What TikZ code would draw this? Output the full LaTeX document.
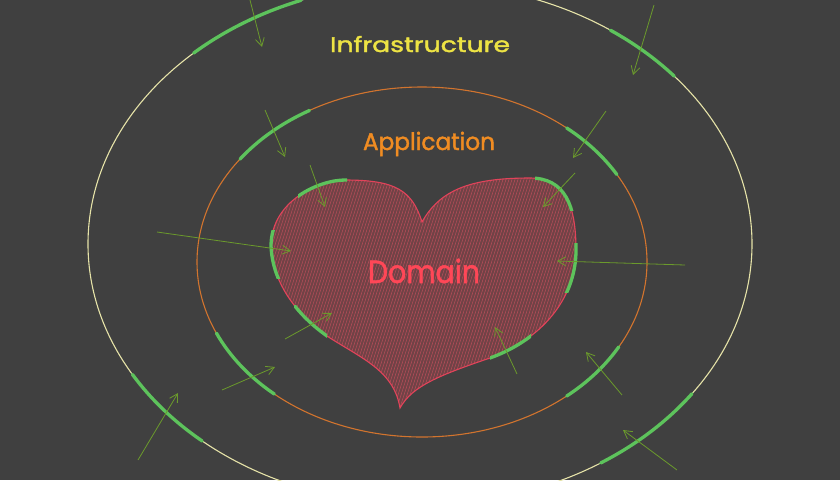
\documentclass[tikz,border=0pt]{standalone}
\usepackage{fontspec}
\setmainfont{Poppins}
\newfontfamily\handfont{Poppins}[FakeBold=1.6]
\usepackage{graphicx}
\usetikzlibrary{arrows.meta}
\definecolor{bg}{HTML}{404040}
\definecolor{outerc}{HTML}{E6E3A8}
\definecolor{midc}{HTML}{D2742E}
\definecolor{heartline}{HTML}{E2435A}
\definecolor{heartfill}{HTML}{704246}
\definecolor{hatchc}{HTML}{B84E5A}
\definecolor{hl}{HTML}{5DC35C}
\definecolor{arr}{HTML}{6B9A2C}
\definecolor{infc}{HTML}{EDE344}
\definecolor{appc}{HTML}{F08C22}
\definecolor{domc}{HTML}{FF4757}
\newlength\fitwid
\newcommand\fitto[2]{\settowidth\fitwid{#2}\scalebox{\fpeval{#1/\fitwid}}[1]{#2}}
\begin{document}
\begin{tikzpicture}[x=1pt,y=-1pt,
  hlseg/.style={hl, line width=3.3pt, line cap=round},
  inarrow/.style={arr, line width=0.8pt, -{Straight Barb[length=8pt,width=9pt]}},
  txt/.style={inner sep=0pt, anchor=base}]
\useasboundingbox (0,0) rectangle (840,480);
\fill[bg] (0,0) rectangle (840,480);

\def\heartpath{(422,222) .. controls (412,190) and (395,180) .. (345,180) .. controls (320,180) and (272,200) .. (271,245) .. controls (272,285) and (300,318) .. (330,338) .. controls (365,360) and (394,372) .. (400,408) .. controls (412,386) and (440,375) .. (490,358) .. controls (540,340) and (576,300) .. (576,250) .. controls (576,205) and (565,178) .. (530,178) .. controls (470,178) and (440,190) .. (422,222) -- cycle}

% ellipses
\draw[outerc, line width=1.1pt] (420,244) ellipse[x radius=332, y radius=261];
\draw[midc, line width=1.1pt] (422,262) ellipse[x radius=225, y radius=175];

% heart
\begin{scope}
  \clip \heartpath;
  \fill[heartfill] (250,170) rectangle (600,420);
  \foreach \x in {150,153,...,620} \draw[hatchc, line width=0.5pt] (\x,420) -- (\x+80,170);
\end{scope}
\draw[heartline, line width=1.1pt] \heartpath;

% highlighted segments on outer ellipse
\draw[hlseg] (420,244) ++(-133:332 and 261) arc[start angle=-133, end angle=-111, x radius=332, y radius=261];
\draw[hlseg] (420,244) ++(-55:332 and 261) arc[start angle=-55, end angle=-40, x radius=332, y radius=261];
\draw[hlseg] (420,244) ++(131:332 and 261) arc[start angle=131, end angle=150, x radius=332, y radius=261];
\draw[hlseg] (420,244) ++(35:332 and 261) arc[start angle=35, end angle=57, x radius=332, y radius=261];
% on middle ellipse
\draw[hlseg] (422,262) ++(-144:225 and 175) arc[start angle=-144, end angle=-120, x radius=225, y radius=175];
\draw[hlseg] (422,262) ++(-50:225 and 175) arc[start angle=-50, end angle=-30, x radius=225, y radius=175];
\draw[hlseg] (422,262) ++(131:225 and 175) arc[start angle=131, end angle=156, x radius=225, y radius=175];
\draw[hlseg] (422,262) ++(29:225 and 175) arc[start angle=29, end angle=50, x radius=225, y radius=175];
% on heart
\begin{scope}\clip (298,170) rectangle (347,205); \draw[hlseg] \heartpath; \end{scope}
\begin{scope}\clip (535,168) rectangle (585,210); \draw[hlseg] \heartpath; \end{scope}
\begin{scope}\clip (258,230) rectangle (286,278); \draw[hlseg] \heartpath; \end{scope}
\begin{scope}\clip (560,243) rectangle (590,292); \draw[hlseg] \heartpath; \end{scope}
\begin{scope}\clip (294,305) rectangle (327,342); \draw[hlseg] \heartpath; \end{scope}
\begin{scope}\clip (490,325) rectangle (531,366); \draw[hlseg] \heartpath; \end{scope}

% arrows
\coordinate (a1s) at (250,0);   \coordinate (a1e) at (262,47);
\coordinate (a2s) at (654,5);   \coordinate (a2e) at (633,75);
\coordinate (a3s) at (138,460); \coordinate (a3e) at (178,393);
\coordinate (a4s) at (677,470); \coordinate (a4e) at (623,430);
\coordinate (a5s) at (265,110); \coordinate (a5e) at (285,157);
\coordinate (a6s) at (606,111); \coordinate (a6e) at (573,158);
\coordinate (a7s) at (222,390); \coordinate (a7e) at (275,367);
\coordinate (a8s) at (622,395); \coordinate (a8e) at (586,352);
\coordinate (a9s) at (310,165); \coordinate (a9e) at (325,207);
\coordinate (a10s) at (575,173); \coordinate (a10e) at (543,207);
\coordinate (a11s) at (157,232); \coordinate (a11e) at (291,251);
\coordinate (a12s) at (685,265); \coordinate (a12e) at (557,261);
\coordinate (a13s) at (285,339); \coordinate (a13e) at (332,313);
\coordinate (a14s) at (517,374); \coordinate (a14e) at (495,327);
\foreach \i in {1,...,14} \draw[inarrow] (a\i s) -- (a\i e);

% labels
\node[txt, infc, font=\handfont\fontsize{21}{21}\selectfont] (inf) at (420,52) {\fitto{180pt}{Infrastructure}};
\node[txt, appc, font=\handfont\fontsize{24}{24}\selectfont] (app) at (429,150) {\fitto{132pt}{Application}};
\node[txt, domc, font=\handfont\fontsize{32}{32}\selectfont] (dom) at (424,283) {\fitto{112pt}{Domain}};
\end{tikzpicture}
\end{document}
